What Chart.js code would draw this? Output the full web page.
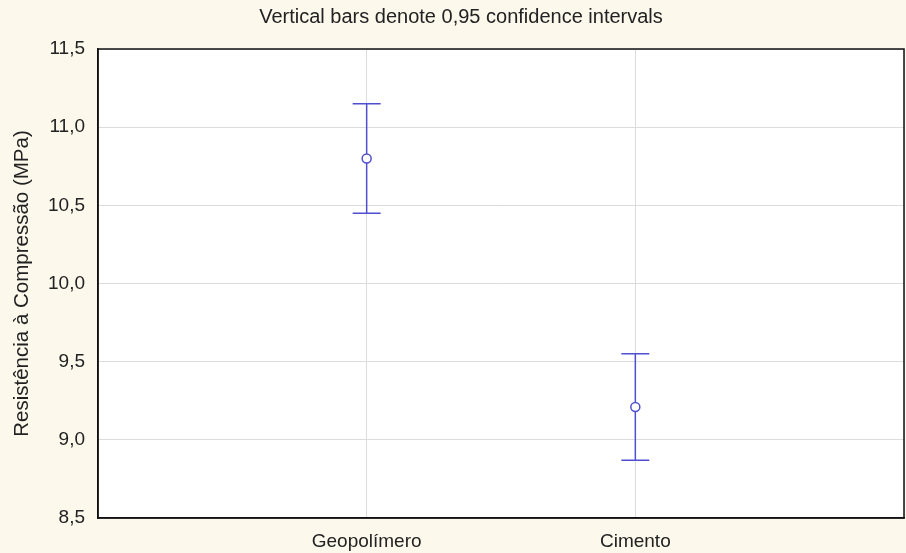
<!DOCTYPE html>
<html>
<head>
<meta charset="utf-8">
<script src="https://cdn.jsdelivr.net/npm/chart.js@4/dist/chart.umd.min.js"></script>
<style>
  html, body { margin: 0; padding: 0; background: #fcf8ec; }
  canvas { display: block; }
</style>
</head>
<body>
<canvas id="c" width="906" height="553"></canvas>
<script>
// Compressive strength: group means with 95% confidence limits
const categories = ['Geopolímero', 'Cimento'];
const means = [10.80, 9.21];
const lowerCI = [10.45, 8.87];
const upperCI = [11.15, 9.55];
const yTicks = { min: 8.5, max: 11.5, step: 0.5 };
const headerText = 'Vertical bars denote 0,95 confidence intervals';

const FONT = '"Liberation Sans", Arial, sans-serif';
const BLUE = '#4f4fcf';

const points = categories.map((c, i) => ({ x: i + 1, y: means[i] }));

// Fill the page cream, the plot area white, and write the header line
const backgrounds = {
  id: 'backgrounds',
  beforeDraw(chart) {
    const { ctx, chartArea: a } = chart;
    ctx.save();
    ctx.fillStyle = '#fcf8ec';
    ctx.fillRect(0, 0, chart.width, chart.height);
    ctx.fillStyle = '#ffffff';
    ctx.fillRect(a.left, a.top, a.right - a.left, a.bottom - a.top);
    ctx.fillStyle = '#222222';
    ctx.font = '20px ' + FONT;
    ctx.textAlign = 'center';
    ctx.textBaseline = 'middle';
    ctx.fillText(headerText, 461, 17);
    ctx.restore();
  },
  // closed frame round the plot area
  afterDraw(chart) {
    const { ctx, chartArea: a } = chart;
    ctx.save();
    ctx.strokeStyle = '#111111';
    ctx.lineWidth = 1.5;
    ctx.strokeRect(a.left, a.top, a.right - a.left, a.bottom - a.top);
    ctx.restore();
  }
};

// Vertical whiskers with caps at the confidence limits
const whiskers = {
  id: 'whiskers',
  beforeDatasetsDraw(chart) {
    const { ctx, scales: { x, y } } = chart;
    ctx.save();
    ctx.strokeStyle = BLUE;
    ctx.lineWidth = 1.5;
    categories.forEach((c, i) => {
      const px = x.getPixelForValue(i + 1);
      const top = y.getPixelForValue(upperCI[i]);
      const bot = y.getPixelForValue(lowerCI[i]);
      const half = 14;
      ctx.beginPath();
      ctx.moveTo(px, top); ctx.lineTo(px, bot);
      ctx.moveTo(px - half, top); ctx.lineTo(px + half, top);
      ctx.moveTo(px - half, bot); ctx.lineTo(px + half, bot);
      ctx.stroke();
    });
    ctx.restore();
  }
};

new Chart(document.getElementById('c'), {
  type: 'scatter',
  data: {
    datasets: [{
      data: points,
      pointRadius: 4.5,
      pointHoverRadius: 4.5,
      pointBorderWidth: 1.5,
      pointBorderColor: BLUE,
      pointBackgroundColor: '#ffffff',
      showLine: false
    }]
  },
  options: {
    responsive: false,
    devicePixelRatio: 1,
    animation: false,
    layout: { autoPadding: false, padding: { left: 0, right: 2, top: 49, bottom: 0 } },
    plugins: {
      legend: { display: false },
      tooltip: { enabled: false },
      title: { display: false }
    },
    scales: {
      x: {
        type: 'linear',
        min: 0,
        max: categories.length + 1,
        afterBuildTicks(scale) {
          scale.ticks = [];
          for (let v = 0; v <= categories.length + 1; v++) scale.ticks.push({ value: v });
        },
        afterFit(scale) {
          scale.height = 35;
        },
        ticks: {
          color: '#222222',
          font: { family: FONT, size: 19 },
          padding: 0,
          maxRotation: 0,
          callback: v => categories[v - 1] || ''
        },
        grid: { color: '#dcdcdc', lineWidth: 1, drawTicks: true, tickLength: 12, tickColor: 'rgba(0,0,0,0)' },
        border: { color: '#111111', width: 1.5 }
      },
      y: {
        min: yTicks.min,
        max: yTicks.max,
        afterFit(scale) { scale.width = 98; },
        ticks: {
          stepSize: yTicks.step,
          color: '#222222',
          font: { family: FONT, size: 19 },
          padding: 13,
          callback: v => v.toFixed(1).replace('.', ',')
        },
        title: {
          display: true,
          text: 'Resistência à Compressão (MPa)',
          color: '#222222',
          font: { family: FONT, size: 20.5 },
          padding: { top: 10, bottom: 0 }
        },
        grid: { color: '#dcdcdc', lineWidth: 1, drawTicks: false },
        border: { color: '#111111', width: 1.5 }
      }
    }
  },
  plugins: [backgrounds, whiskers]
});
</script>
</body>
</html>
